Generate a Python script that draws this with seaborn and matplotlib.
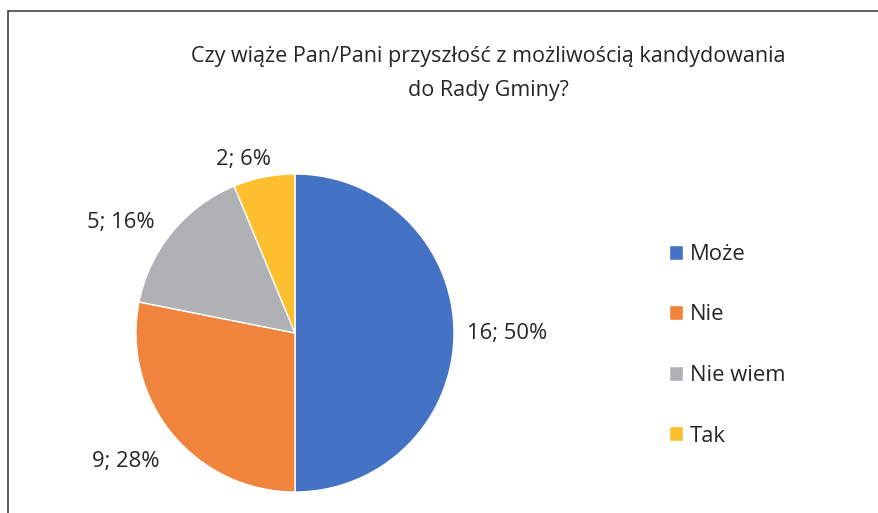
import matplotlib
matplotlib.use("Agg")
import matplotlib.pyplot as plt
import seaborn as sns
from matplotlib.lines import Line2D

# dane z wykresu
kategorie = ["Może", "Nie", "Nie wiem", "Tak"]
liczby = [16, 9, 5, 2]
procenty = [50, 28, 16, 6]
tytul = "Czy wiąże Pan/Pani przyszłość z możliwością kandydowania\ndo Rady Gminy?"

sns.set_theme(style="white")
plt.rcParams['font.family'] = ['Open Sans', 'DejaVu Sans']
kolory = sns.color_palette(['#4472C4', '#F0843C', '#B0B1B4', '#FDBF2D'])
kolor_tekstu = '#262626'

W, H = 879, 513
fig = plt.figure(figsize=(W / 100, H / 100), dpi=100)

# pie: srodek (295, 333), promien 159 px
cx, cy, r = 295, 333, 159
ax = fig.add_axes([(cx - r) / W, (H - cy - r) / H, 2 * r / W, 2 * r / H])
etykiety = [f"{n}; {p}%" for n, p in zip(liczby, procenty)]
wedges, texts = ax.pie(
    liczby,
    colors=kolory,
    startangle=90,
    counterclock=False,
    labels=etykiety,
    labeldistance=1.1,
    textprops=dict(fontsize=15.8, color=kolor_tekstu),
)
# drobne przesuniecia etykiet jak w Excelu (w pikselach)
przesuniecia = [(-3, 0), (0, -18), (-5, 0), (10, 2)]
for t, (dx, dy) in zip(texts, przesuniecia):
    x, y = t.get_position()
    t.set_position((x + dx / r, y + dy / r))

ax.set_xlim(-1, 1)
ax.set_ylim(-1, 1)
ax.set_aspect('auto')
ax.axis('off')

fig.text(488 / W, 1 - 73.5 / H, tytul, ha='center', va='center', fontsize=15.5,
         color=kolor_tekstu, linespacing=1.8)

leg = fig.legend(
    wedges, kategorie,
    loc='upper left', bbox_to_anchor=(669 / W, 1 - 244 / H),
    frameon=False, fontsize=15.8,
    handlelength=0.65, handleheight=0.65, handletextpad=0.3,
    labelspacing=1.8, borderaxespad=0, borderpad=0,
)
for t in leg.get_texts():
    t.set_color(kolor_tekstu)

# ramka (gorna i lewa krawedz)
fig.add_artist(Line2D([8 / W, 1], [1 - 11 / H, 1 - 11 / H], color='#444444', lw=1.2))
fig.add_artist(Line2D([8 / W, 8 / W], [0, 1 - 11 / H], color='#444444', lw=1.2))

fig.savefig("out.png", dpi=100, facecolor='white')
